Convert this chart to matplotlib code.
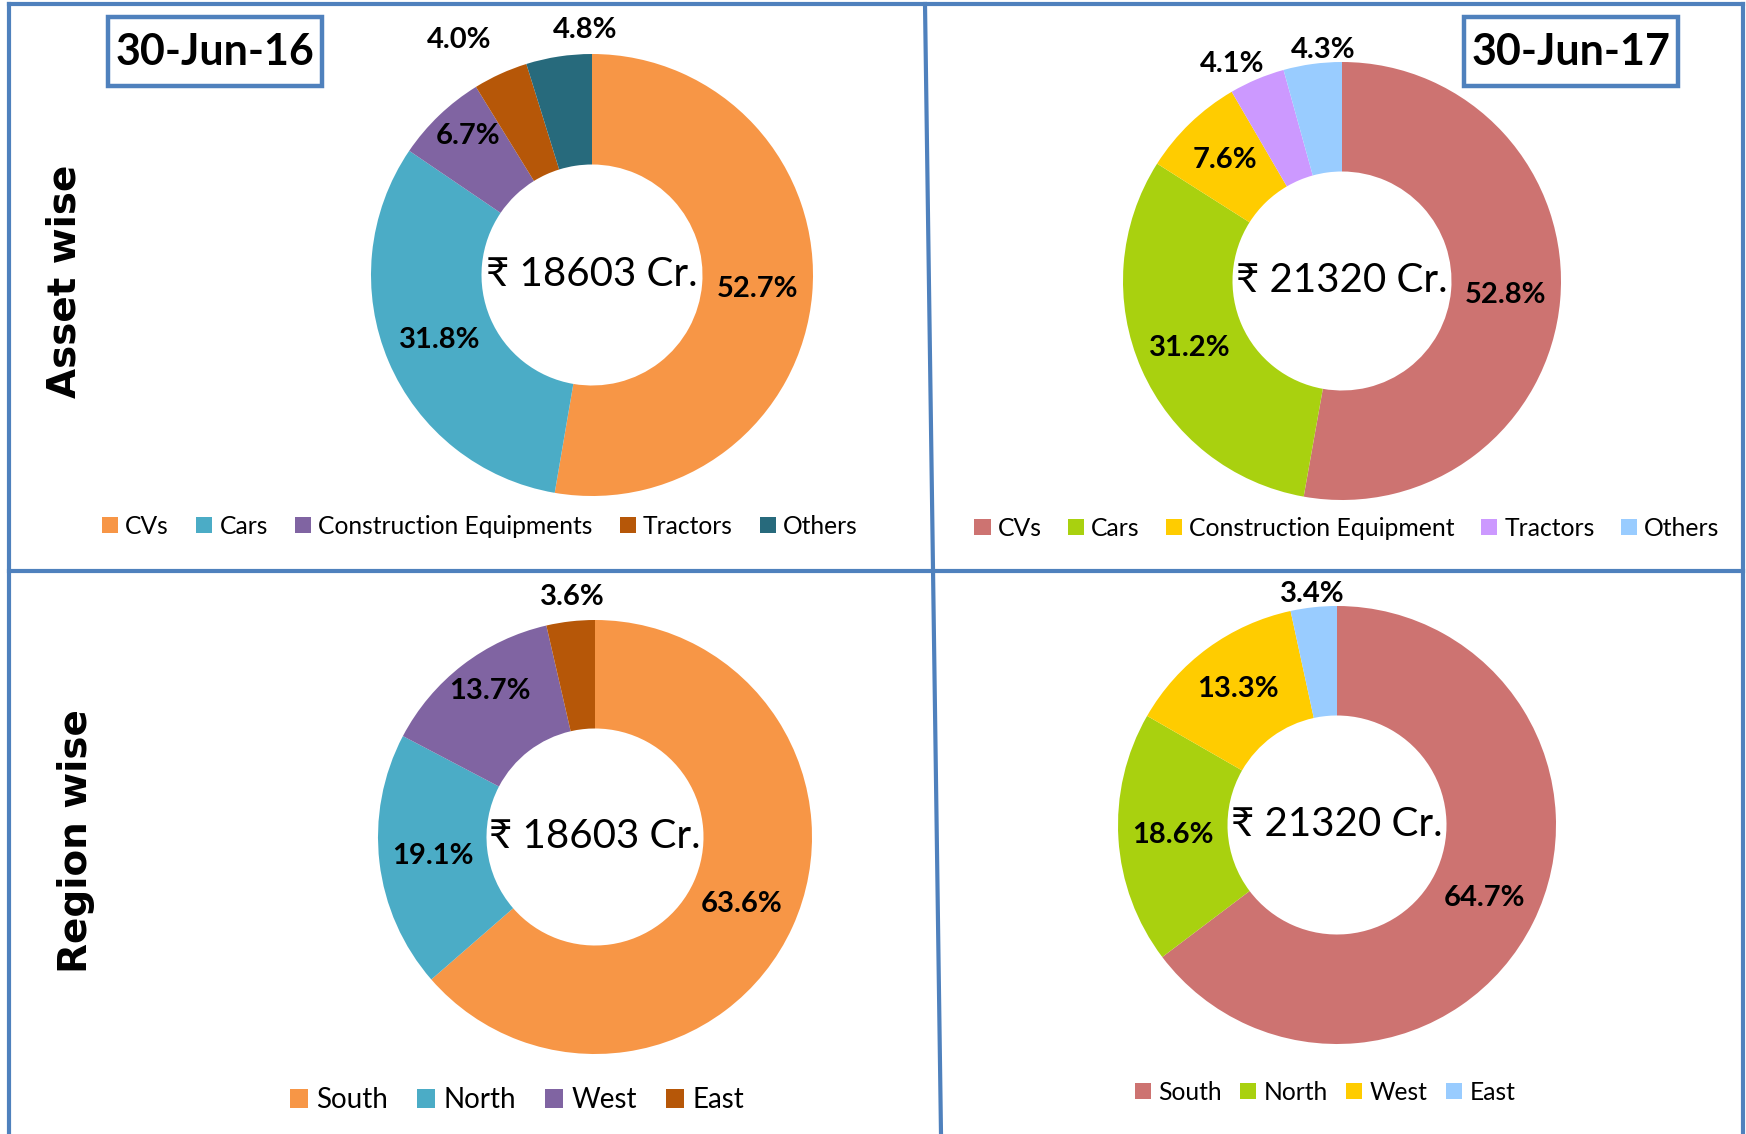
import numpy as np
import matplotlib.pyplot as plt
from matplotlib.patches import Patch, Rectangle
from matplotlib.lines import Line2D

plt.rcParams['font.family'] = ['Lato', 'DejaVu Sans']

W, H = 1746, 1134

# data
asset_labels_16 = ['CVs', 'Cars', 'Construction Equipments', 'Tractors', 'Others']
asset_share_16 = [52.7, 31.8, 6.7, 4.0, 4.8]
asset_labels_17 = ['CVs', 'Cars', 'Construction Equipment', 'Tractors', 'Others']
asset_share_17 = [52.8, 31.2, 7.6, 4.1, 4.3]
region_labels = ['South', 'North', 'West', 'East']
region_share_16 = [63.6, 19.1, 13.7, 3.6]
region_share_17 = [64.7, 18.6, 13.3, 3.4]
total_16 = '₹ 18603 Cr.'
total_17 = '₹ 21320 Cr.'
dates = ['30-Jun-16', '30-Jun-17']
rows = ['Asset wise', 'Region wise']

colors_16 = ['#F79646', '#4BACC6', '#8064A2', '#B65708', '#276A7C']
colors_17 = ['#CD7371', '#A9D10F', '#FFCC00', '#CC99FF', '#99CCFF']
region_colors_16 = ['#F79646', '#4BACC6', '#8064A2', '#B65708']
region_colors_17 = ['#CD7371', '#A9D10F', '#FFCC00', '#99CCFF']
blue = '#4F81BD'

fig = plt.figure(figsize=(W / 100, H / 100), dpi=100)


def donut(cx, cy, r, vals, cols, centre, lab_r, nudge):
    ax = fig.add_axes([(cx - r) / W, (H - cy - r) / H, 2 * r / W, 2 * r / H])
    ax.pie(vals, colors=cols, startangle=90, counterclock=False,
           wedgeprops=dict(width=0.5, linewidth=0))
    ax.set_xlim(-1, 1)
    ax.set_ylim(-1, 1)
    ax.text(0, 0, centre, ha='center', va='center', fontsize=29)
    mid = np.cumsum(vals) - np.array(vals) / 2
    for v, m, d, n in zip(vals, mid, lab_r, nudge):
        th = np.radians(360 * m / sum(vals) + n)
        ax.text(d * np.sin(th), d * np.cos(th), f'{v:.1f}%', ha='center',
                va='center', fontsize=21, fontweight='bold')
    return ax


donut(592, 275, 221, asset_share_16, colors_16, total_16,
      [0.75, 0.75, 0.84, 1.22, 1.11], [0, 0, 2, -5, 7])
donut(1342, 281, 219, asset_share_17, colors_17, total_17,
      [0.75, 0.76, 0.77, 1.11, 1.06], [0, 0, 0, -4, 3])
donut(595, 837, 217, region_share_16, region_colors_16, total_16,
      [0.74, 0.75, 0.83, 1.11], [0, 0, 2, 1])
donut(1337, 825, 219, region_share_17, region_colors_17, total_17,
      [0.75, 0.75, 0.77, 1.06], [0, 0, 0, 0])


def legend(x, y, labels, cols, fs, cs):
    handles = [Patch(facecolor=c, edgecolor='none') for c in cols]
    fig.legend(handles, labels, loc='center', bbox_to_anchor=(x / W, 1 - y / H),
               ncol=len(labels), frameon=False, fontsize=fs, handlelength=0.65,
               handleheight=0.65, handletextpad=0.3, columnspacing=cs)


legend(480, 526, asset_labels_16, colors_16, 17.7, 1.1)
legend(1347, 528, asset_labels_17, colors_17, 17.8, 1.05)
legend(517, 1100, region_labels, region_colors_16, 20, 1.05)
legend(1325, 1092, region_labels, region_colors_17, 17.7, 0.75)

# date boxes
for (x0, y0), d in zip([(108, 17), (1464, 17)], dates):
    fig.add_artist(Rectangle((x0 / W, 1 - (y0 + 69) / H), 214 / W, 69 / H,
                             transform=fig.transFigure, fill=False,
                             edgecolor=blue, linewidth=3.2))
    fig.text((x0 + 107) / W, 1 - (y0 + 35) / H, d, ha='center', va='center',
             fontsize=31, fontweight='bold')

# row titles
for (x, y), t in zip([(65, 281), (76, 841)], rows):
    fig.text(x / W, 1 - y / H, t, rotation=90, ha='center', va='center',
             fontsize=28, fontweight='bold', family='DejaVu Sans')

# panel borders
segs = [((9, 4), (1743, 4)), ((9, 4), (9, 1134)), ((1743, 4), (1743, 1134)),
        ((9, 571), (1743, 571)), ((925, 4), (941, 1134))]
for (xa, ya), (xb, yb) in segs:
    fig.add_artist(Line2D([xa / W, xb / W], [1 - ya / H, 1 - yb / H],
                          transform=fig.transFigure, color=blue, linewidth=3))

fig.savefig('out.png', dpi=100, facecolor='white')
